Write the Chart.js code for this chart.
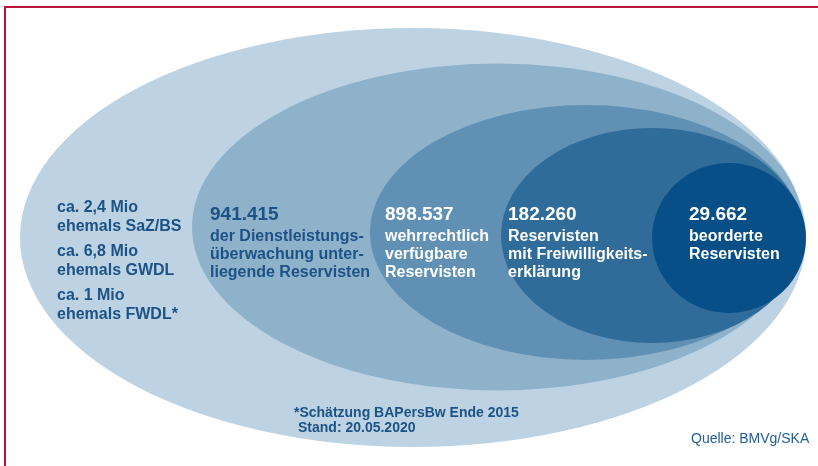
<!DOCTYPE html>
<html>
<head>
<meta charset="utf-8">
<script src="https://cdn.jsdelivr.net/npm/chart.js@4.4.1/dist/chart.umd.min.js"></script>
<style>
body { margin: 0; background: #fff; }
canvas { display: block; }
</style>
</head>
<body>
<canvas id="c" width="818" height="466"></canvas>
<script>
// values
const formerMio = [2.4, 6.8, 1];
const formerGroups = ['SaZ/BS', 'GWDL', 'FWDL*'];
const reservists = [941415, 898537, 182260, 29662];
const reservistLabels = [
  ['der Dienstleistungs-', 'überwachung unter-', 'liegende Reservisten'],
  ['wehrrechtlich', 'verfügbare', 'Reservisten'],
  ['Reservisten', 'mit Freiwilligkeits-', 'erklärung'],
  ['beorderte', 'Reservisten']
];
const footnote = ['*Schätzung BAPersBw Ende 2015', 'Stand: 20.05.2020'];
const source = 'Quelle: BMVg/SKA';

// layout (canvas units, x 0..818, y 0..466)
const rings = [
  { cx: 413, cy: 237.5, rx: 393, ry: 209.5, color: '#bdd3e3' },
  { cx: 497.5, cy: 227, rx: 305.5, ry: 163.5, color: '#8fb2cb' },
  { cx: 586, cy: 232.5, rx: 216, ry: 127.5, color: '#6190b5' },
  { cx: 652, cy: 235.5, rx: 151, ry: 107.5, color: '#306c9a' },
  { cx: 729, cy: 238, rx: 77, ry: 75, color: '#084f88' }
];
const labelPos = [
  { x: 210, y: 220, color: '#1c5285' },
  { x: 385, y: 220, color: '#ffffff' },
  { x: 508, y: 220, color: '#ffffff' },
  { x: 689, y: 220, color: '#ffffff' }
];
const darkText = '#1c5285';
const FONT = '"Liberation Sans", Arial, sans-serif';

function fmtNum(n) {
  return String(n).replace(/\B(?=(\d{3})+(?!\d))/g, '.');
}

const diagram = {
  id: 'diagram',
  beforeDatasetsDraw(chart) {
    const { ctx, scales: { x, y } } = chart;
    ctx.save();
    // frame
    ctx.strokeStyle = '#b8143c';
    ctx.lineWidth = 2;
    ctx.beginPath();
    ctx.moveTo(x.getPixelForValue(5), y.getPixelForValue(466));
    ctx.lineTo(x.getPixelForValue(5), y.getPixelForValue(7));
    ctx.lineTo(x.getPixelForValue(818), y.getPixelForValue(7));
    ctx.stroke();
    // rings, outer to inner
    rings.forEach(r => {
      const px = x.getPixelForValue(r.cx);
      const py = y.getPixelForValue(r.cy);
      const prx = Math.abs(x.getPixelForValue(r.cx + r.rx) - px);
      const pry = Math.abs(y.getPixelForValue(r.cy + r.ry) - py);
      ctx.fillStyle = r.color;
      ctx.beginPath();
      ctx.ellipse(px, py, prx, pry, 0, 0, Math.PI * 2);
      ctx.fill();
    });
    ctx.restore();
  },
  afterDatasetsDraw(chart) {
    const { ctx, scales: { x, y } } = chart;
    ctx.save();
    ctx.textBaseline = 'alphabetic';
    ctx.textAlign = 'left';

    // outer ring: former soldiers
    ctx.fillStyle = darkText;
    ctx.font = 'bold 16px ' + FONT;
    const base = [212, 256, 300];
    formerMio.forEach((m, i) => {
      const txt = 'ca. ' + String(m).replace('.', ',') + ' Mio';
      ctx.fillText(txt, x.getPixelForValue(57), y.getPixelForValue(base[i]));
      ctx.fillText('ehemals ' + formerGroups[i], x.getPixelForValue(57), y.getPixelForValue(base[i] + 19));
    });

    // inner rings
    reservists.forEach((n, i) => {
      const p = labelPos[i];
      ctx.fillStyle = p.color;
      ctx.font = 'bold 19px ' + FONT;
      ctx.fillText(fmtNum(n), x.getPixelForValue(p.x), y.getPixelForValue(p.y));
      ctx.font = 'bold 16px ' + FONT;
      reservistLabels[i].forEach((line, j) => {
        ctx.fillText(line, x.getPixelForValue(p.x), y.getPixelForValue(p.y + 21 + j * 18));
      });
    });

    // footnote and source
    ctx.fillStyle = darkText;
    ctx.font = 'bold 14px ' + FONT;
    ctx.fillText(footnote[0], x.getPixelForValue(294), y.getPixelForValue(417));
    ctx.fillText(footnote[1], x.getPixelForValue(298), y.getPixelForValue(432));
    ctx.fillStyle = '#22609a';
    ctx.font = '14px ' + FONT;
    ctx.fillText(source, x.getPixelForValue(691), y.getPixelForValue(443));
    ctx.restore();
  }
};

new Chart(document.getElementById('c'), {
  type: 'scatter',
  data: {
    datasets: rings.map((r, i) => ({
      label: i === 0 ? 'ehemalige Soldaten' : fmtNum(reservists[i - 1]),
      data: [{ x: r.cx, y: r.cy }],
      pointRadius: 0
    }))
  },
  options: {
    responsive: false,
    animation: false,
    layout: { padding: 0 },
    plugins: { legend: { display: false }, tooltip: { enabled: false } },
    scales: {
      x: { type: 'linear', min: 0, max: 818, display: false },
      y: { type: 'linear', min: 0, max: 466, reverse: true, display: false }
    }
  },
  plugins: [diagram]
});
</script>
</body>
</html>
